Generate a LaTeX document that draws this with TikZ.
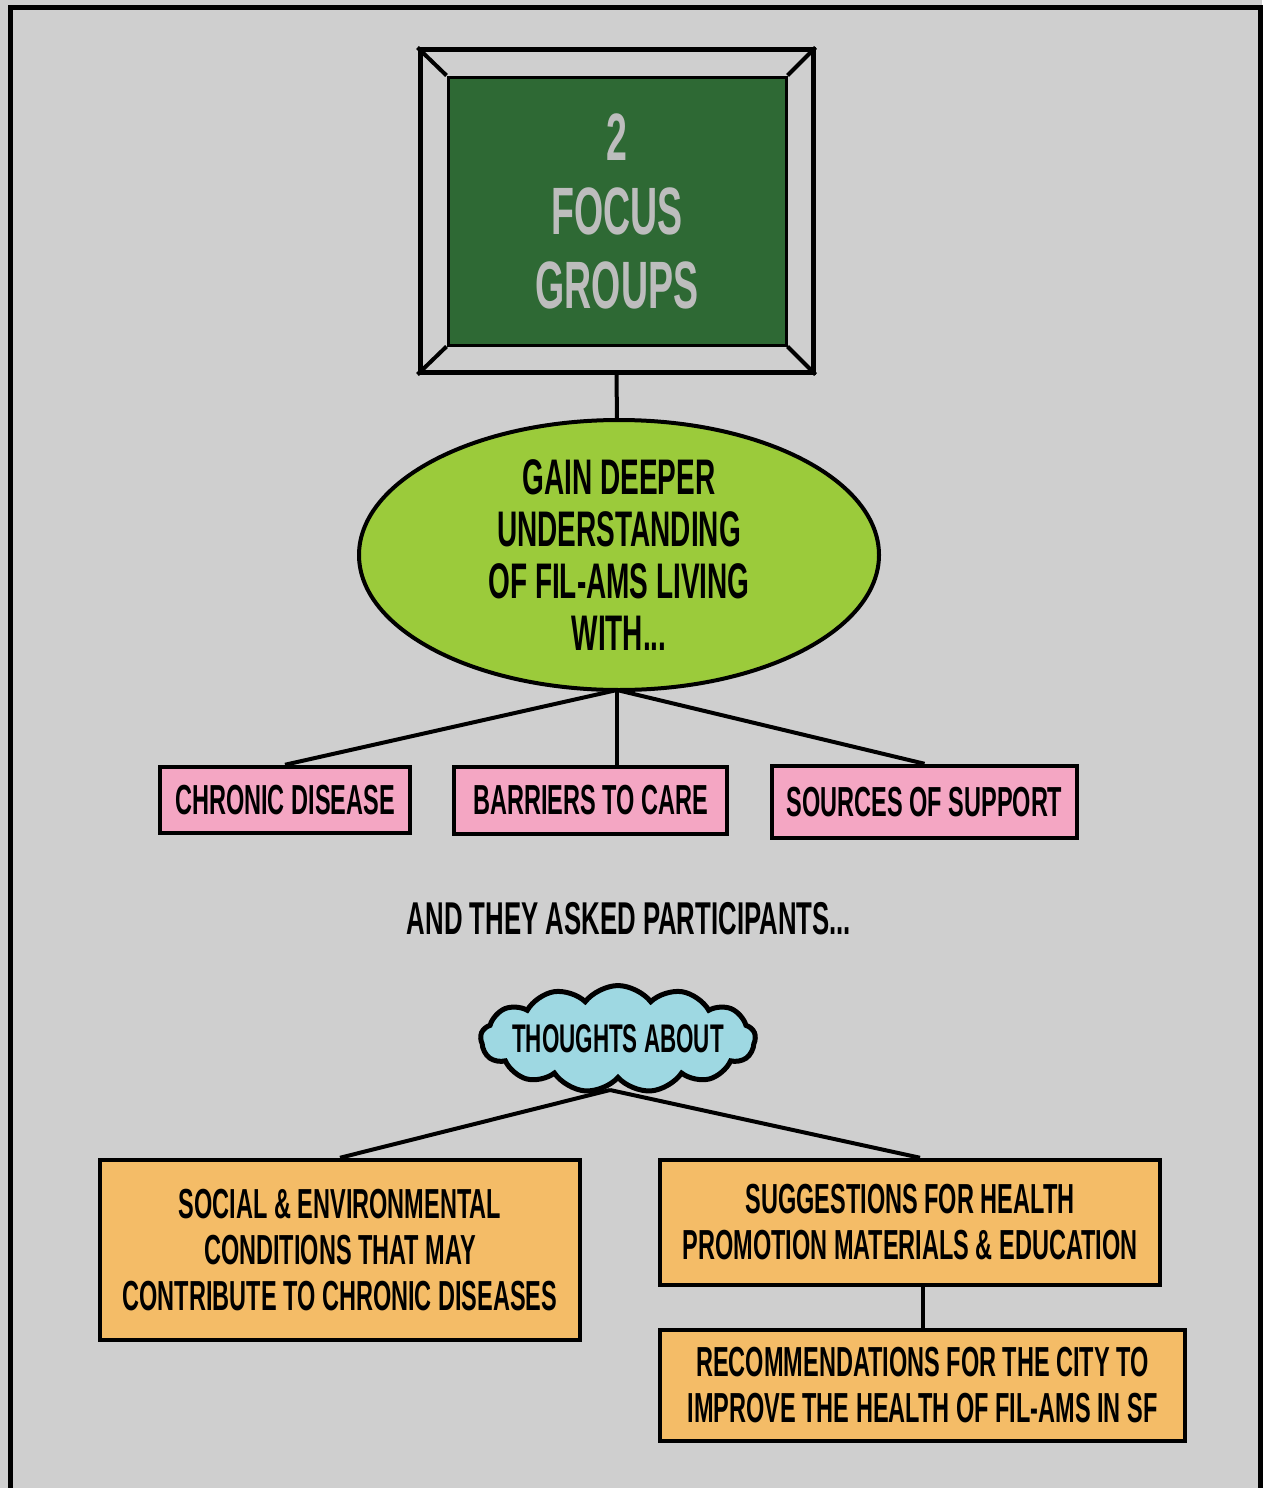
\documentclass[tikz,border=0pt]{standalone}
\usepackage{fontspec}
\setmainfont[FakeStretch=0.56]{Liberation Sans}
\usetikzlibrary{shapes.geometric,shapes.symbols}
\definecolor{bggray}{HTML}{CFCFCF}
\definecolor{boardgreen}{HTML}{2E6934}
\definecolor{chalk}{HTML}{BDBDBD}
\definecolor{lime}{HTML}{9BCB3B}
\definecolor{pinkbox}{HTML}{F4A6C3}
\definecolor{cloudblue}{HTML}{9ED8E2}
\definecolor{orangebox}{HTML}{F4BC67}
\newcommand{\poster}[2]{\fontsize{#1}{#2}\selectfont\bfseries}

\begin{document}
\begin{tikzpicture}[x=1pt, y=-1pt,
  topic/.style={draw, line width=4.5pt, fill=pinkbox, inner sep=0pt, font=\poster{42}{46}},
  ask/.style={draw, line width=4.5pt, fill=orangebox, inner sep=0pt, align=center, font=\poster{42}{46}},
  link/.style={line width=4pt}]

  \useasboundingbox (0,0) rectangle (1262,1488);
  \fill[bggray] (0,0) rectangle (1262,1488);
  \draw[line width=5pt] (10,1490) -- (10,7.5) -- (1260,7.5) -- (1260,1490);

  %% chalkboard
  \node[draw, line width=5pt, fill=bggray, minimum width=393pt, minimum height=322pt, inner sep=0pt] (frame) at (616.5,211) {};
  \node[draw, line width=3pt, fill=boardgreen, minimum width=338pt, minimum height=268pt, inner sep=0pt,
        text=chalk, align=center, font=\poster{67}{74}] (board) at (617,211) {2\\FOCUS\\GROUPS};
  \foreach \c in {north west, north east, south west, south east}
    \draw[line width=4pt] (frame.\c) -- (board.\c);

  \node[ellipse, draw, line width=4pt, fill=lime, minimum width=520pt, minimum height=266pt, inner sep=0pt,
        align=center, font=\poster{50}{52}] (aim) at (619,555)
        {GAIN DEEPER\\UNDERSTANDING\\OF FIL-AMS LIVING\\WITH...};
  \draw[link] (frame.south) -- (617,421);

  \node[topic, minimum width=250pt, minimum height=66pt] (chronic) at (285,800) {CHRONIC DISEASE};
  \node[topic, minimum width=273pt, minimum height=67pt] (barriers) at (590.5,800.5) {BARRIERS TO CARE};
  \node[topic, minimum width=305pt, minimum height=72pt] (support) at (924.5,802) {SOURCES OF SUPPORT};
  \coordinate (fork) at (617,690);
  \draw[link] (fork) -- (chronic.north);
  \draw[link] (fork) -- (fork |- barriers.north);
  \draw[link] (fork) -- (support.north);

  \node[font=\poster{46}{48}] (asked) at (629,919) {AND THEY ASKED PARTICIPANTS...};

  %% cloud
  \node[cloud, draw, line width=5pt, fill=cloudblue, cloud puffs=13, cloud puff arc=105, cloud ignores aspect,
        inner xsep=-9pt, inner ysep=13pt, font=\poster{40}{44}] (thoughts) at (618,1039) {THOUGHTS ABOUT};
  \coordinate (split) at (610,1090);

  \node[ask, minimum width=480pt, minimum height=180pt] (social) at (340,1250)
        {SOCIAL \& ENVIRONMENTAL\\CONDITIONS THAT MAY\\CONTRIBUTE TO CHRONIC DISEASES};
  \node[ask, minimum width=500pt, minimum height=125pt] (ideas) at (910,1222.5)
        {SUGGESTIONS FOR HEALTH\\PROMOTION MATERIALS \& EDUCATION};
  \node[ask, minimum width=525pt, minimum height=111pt] (city) at (922.5,1385.5)
        {RECOMMENDATIONS FOR THE CITY TO\\IMPROVE THE HEALTH OF FIL-AMS IN SF};
  \draw[link] (split) -- (social.north);
  \draw[link] (split) -- (ideas.north -| 920,0);
  \draw[link] (city.north) -- (city.north |- ideas.south);

\end{tikzpicture}
\end{document}
